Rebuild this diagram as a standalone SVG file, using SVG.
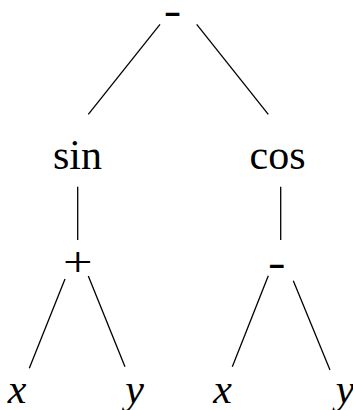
<svg xmlns="http://www.w3.org/2000/svg" width="353" height="410" viewBox="0 0 353 410">
<style>
text{font-family:'Liberation Serif','Times New Roman',serif;font-size:42px;fill:#000;text-anchor:middle}
.i{font-style:italic}
.e{stroke:#000;stroke-width:1.3;fill:none;stroke-linecap:butt}
</style>
<rect width="353" height="410" fill="#fff"/>
<g id="edges">
<line class="e" x1="160" y1="24.3" x2="88.3" y2="114.3"/>
<line class="e" x1="196.7" y1="24.3" x2="268.3" y2="114.3"/>
<line class="e" x1="77.7" y1="186.7" x2="77.7" y2="240"/>
<line class="e" x1="280.7" y1="186.7" x2="280.7" y2="240"/>
<line class="e" x1="65" y1="279" x2="29.3" y2="368.3"/>
<line class="e" x1="88.3" y1="276" x2="125" y2="366.7"/>
<line class="e" x1="268.3" y1="275.7" x2="232.3" y2="366.7"/>
<line class="e" x1="293.3" y1="280.7" x2="330" y2="370"/>
</g>
<g id="root"><text transform="translate(172.5,24) scale(1.25,1)">-</text></g>
<g id="sin"><text x="77.5" y="169">sin</text></g>
<g id="cos"><text x="277.5" y="169">cos</text></g>
<g id="plus"><text transform="translate(77.7,276) scale(1.25,1)">+</text></g>
<g id="minus"><text transform="translate(276.7,275.8) scale(1.25,1)">-</text></g>
<g id="x1"><text class="i" x="17" y="403">x</text></g>
<g id="y1"><text class="i" x="134.5" y="403">y</text></g>
<g id="x2"><text class="i" x="222.5" y="403">x</text></g>
<g id="y2"><text class="i" x="345" y="403">y</text></g>
</svg>
